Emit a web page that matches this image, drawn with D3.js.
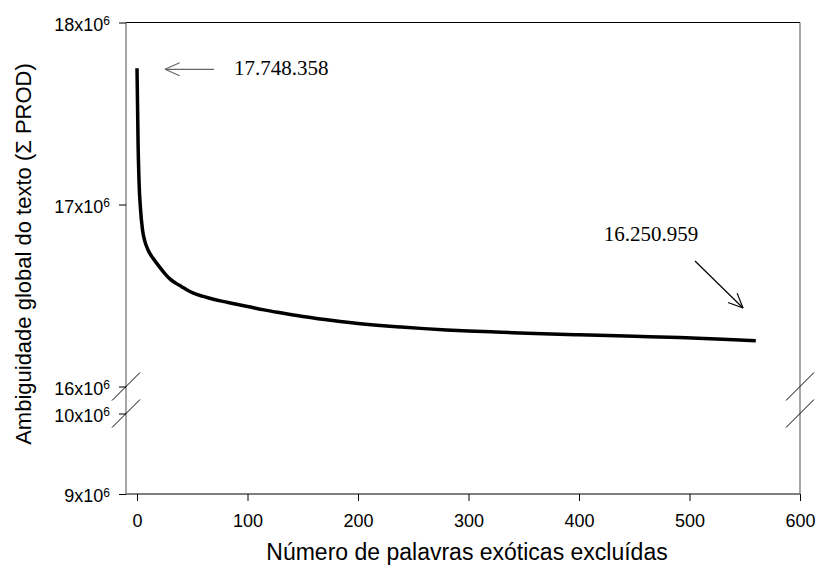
<!DOCTYPE html>
<html>
<head>
<meta charset="utf-8">
<script src="https://cdn.jsdelivr.net/npm/d3@7"></script>
<style>
  body { margin: 0; background: #fff; }
  svg { display: block; }
</style>
</head>
<body>
<div id="chart"></div>
<script>
// words removed vs. global ambiguity (values in units)
var excluded = [0, 1, 2, 3, 5, 7, 10, 15, 20, 25, 30, 35, 40, 45, 50, 60, 70, 80, 90, 100, 115, 130, 150, 170, 184, 200, 220, 238, 260, 280, 300, 330, 360, 400, 450, 491, 530, 560];
var ambiguity = [17748358, 17330000, 17100000, 16990000, 16860000, 16800000, 16750000, 16700000, 16660000, 16622000, 16590000, 16568000, 16550000, 16532000, 16516000, 16495000, 16478000, 16465000, 16452000, 16440000, 16421000, 16405000, 16385000, 16368000, 16357000, 16346000, 16335000, 16327000, 16318000, 16311000, 16305000, 16298000, 16291000, 16284000, 16276000, 16269000, 16260000, 16250959];
var xTicks = [0, 100, 200, 300, 400, 500, 600];
var yTicksTop = [16e6, 17e6, 18e6];
var yTicksBottom = [9e6, 10e6];
var firstLabel = '17.748.358';
var lastLabel = '16.250.959';

var W = 818, H = 573;
var plotL = 126, plotR = 800, plotT = 22.5, plotB = 494;
var breakTop = 386.5, breakBottom = 413.5;

var svg = d3.select('#chart').append('svg')
  .attr('width', W).attr('height', H);

var x = d3.scaleLinear().domain([0, 600]).range([137, 800]);
var yTop = d3.scaleLinear().domain([16e6, 18e6]).range([breakTop, plotT]);
var yBot = d3.scaleLinear().domain([9e6, 10e6]).range([plotB, breakBottom]);

// frame
svg.append('line').attr('x1', plotL).attr('x2', plotR).attr('y1', plotT).attr('y2', plotT)
  .attr('stroke', '#000').attr('stroke-width', 1);
svg.append('line').attr('x1', plotL).attr('x2', plotR).attr('y1', plotB).attr('y2', plotB)
  .attr('stroke', '#000').attr('stroke-width', 1);
svg.append('line').attr('x1', plotL).attr('x2', plotL).attr('y1', plotT).attr('y2', plotB)
  .attr('stroke', '#777').attr('stroke-width', 1.3);
svg.append('line').attr('x1', plotR).attr('x2', plotR).attr('y1', plotT).attr('y2', plotB)
  .attr('stroke', '#777').attr('stroke-width', 1.3);

function supLabels(sel) {
  sel.selectAll('text').each(function (d) {
    var t = d3.select(this);
    t.text(null);
    t.append('tspan').text((d / 1e6) + 'x10');
    t.append('tspan').attr('dy', '-0.45em').attr('font-size', '12px').text('6');
  });
}

var axTop = svg.append('g').attr('transform', 'translate(' + plotL + ',0)')
  .call(d3.axisLeft(yTop).tickValues(yTicksTop).tickSize(7).tickPadding(9));
var axBot = svg.append('g').attr('transform', 'translate(' + plotL + ',0)')
  .call(d3.axisLeft(yBot).tickValues(yTicksBottom).tickSize(7).tickPadding(9));
[axTop, axBot].forEach(function (g) {
  g.select('.domain').remove();
  g.selectAll('line').attr('stroke', '#000');
  g.selectAll('text').attr('font-family', 'Liberation Sans, Arial, sans-serif')
    .attr('font-size', '18px').attr('fill', '#000').attr('dy', '0.42em');
  g.call(supLabels);
});

var axX = svg.append('g').attr('transform', 'translate(0,' + plotB + ')')
  .call(d3.axisBottom(x).tickValues(xTicks).tickSize(7).tickPadding(13).tickSizeOuter(0));
axX.select('.domain').remove();
axX.selectAll('line').attr('stroke', '#000');
axX.selectAll('text').attr('font-family', 'Liberation Sans, Arial, sans-serif')
  .attr('font-size', '18px').attr('fill', '#000');

// axis break marks
[plotL, plotR].forEach(function (cx) {
  [breakTop, breakBottom].forEach(function (cy) {
    svg.append('line')
      .attr('x1', cx - 14).attr('y1', cy + 14)
      .attr('x2', cx + 14).attr('y2', cy - 14)
      .attr('stroke', '#000').attr('stroke-width', 1);
  });
});

// curve
var pts = excluded.map(function (d, i) { return [d, ambiguity[i]]; });
svg.append('path')
  .datum(pts)
  .attr('fill', 'none')
  .attr('stroke', '#000')
  .attr('stroke-width', 3.5)
  .attr('stroke-linejoin', 'round')
  .attr('d', d3.line()
    .x(function (d) { return x(d[0]); })
    .y(function (d) { return yTop(d[1]); })
    .curve(d3.curveMonotoneX));

// axis titles
svg.append('text')
  .attr('x', 467).attr('y', 560)
  .attr('text-anchor', 'middle')
  .attr('font-family', 'Liberation Sans, Arial, sans-serif')
  .attr('font-size', '23px')
  .text('Número de palavras exóticas excluídas');

svg.append('text')
  .attr('transform', 'translate(31,254) rotate(-90)')
  .attr('text-anchor', 'middle')
  .attr('font-family', 'Liberation Sans, Arial, sans-serif')
  .attr('font-size', '22px')
  .text('Ambiguidade global do texto (Σ PROD)');

// annotations
function arrow(x1, y1, x2, y2, color) {
  var a = Math.atan2(y2 - y1, x2 - x1), len = 16, sp = 0.42;
  svg.append('line').attr('x1', x1).attr('y1', y1).attr('x2', x2).attr('y2', y2)
    .attr('stroke', color).attr('stroke-width', 1.2);
  [-sp, sp].forEach(function (s) {
    svg.append('line').attr('x1', x2).attr('y1', y2)
      .attr('x2', x2 - len * Math.cos(a + s)).attr('y2', y2 - len * Math.sin(a + s))
      .attr('stroke', color).attr('stroke-width', 1.2);
  });
}

var first = pts[0], last = pts[pts.length - 1];
arrow(x(first[0]) + 77, yTop(first[1]) + 1, x(first[0]) + 28, yTop(first[1]) + 1, '#666');
svg.append('text')
  .attr('x', x(first[0]) + 97).attr('y', yTop(first[1]) + 7)
  .attr('font-family', 'Liberation Serif, Times New Roman, serif')
  .attr('font-size', '21px')
  .text(firstLabel);

arrow(695, 261, 743, 308, '#000');
svg.append('text')
  .attr('x', x(last[0]) - 152).attr('y', yTop(last[1]) - 100)
  .attr('font-family', 'Liberation Serif, Times New Roman, serif')
  .attr('font-size', '21px')
  .text(lastLabel);
</script>
</body>
</html>
